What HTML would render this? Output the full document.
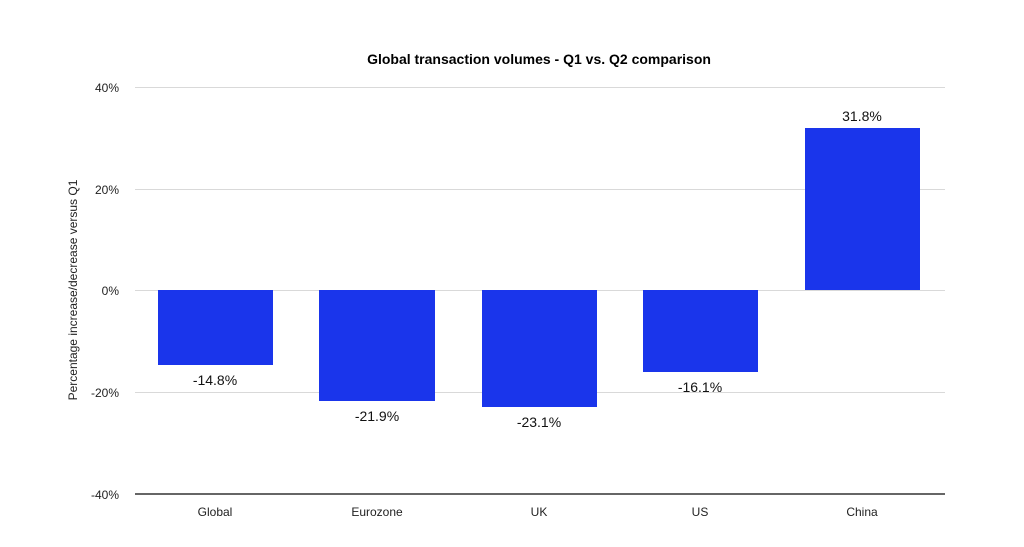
<!DOCTYPE html>
<html><head><meta charset="utf-8"><style>
html,body{margin:0;padding:0;background:#fff;}
svg{display:block;font-family:"Liberation Sans",sans-serif;}
</style></head><body>
<svg width="1024" height="547" xmlns="http://www.w3.org/2000/svg">
<rect width="1024" height="547" fill="#fff"/>
<text x="539" y="64" text-anchor="middle" font-size="14" font-weight="bold" fill="#000">Global transaction volumes - Q1 vs. Q2 comparison</text>
<g stroke="#d9d9d9" stroke-width="1">
<line x1="135" x2="945" y1="87.5" y2="87.5"/>
<line x1="135" x2="945" y1="189.5" y2="189.5"/>
<line x1="135" x2="945" y1="290.5" y2="290.5"/>
<line x1="135" x2="945" y1="392.5" y2="392.5"/>
</g>
<g font-size="12" fill="#222" text-anchor="end">
<text x="119" y="92">40%</text>
<text x="119" y="194">20%</text>
<text x="119" y="295">0%</text>
<text x="119" y="397">-20%</text>
<text x="119" y="499">-40%</text>
</g>
<text transform="translate(77,290) rotate(-90)" text-anchor="middle" font-size="12" fill="#222">Percentage increase/decrease versus Q1</text>
<g fill="#1a35eb">
<rect x="158" y="290" width="115" height="75"/>
<rect x="319" y="290" width="116" height="111"/>
<rect x="482" y="290" width="115" height="117"/>
<rect x="643" y="290" width="115" height="82"/>
<rect x="805" y="128" width="115" height="162"/>
</g>
<line x1="135" x2="945" y1="494" y2="494" stroke="#333" stroke-width="1.5"/>
<g font-size="14" fill="#111" text-anchor="middle">
<text x="215" y="385">-14.8%</text>
<text x="377" y="421">-21.9%</text>
<text x="539" y="427">-23.1%</text>
<text x="700" y="392">-16.1%</text>
<text x="862" y="121">31.8%</text>
</g>
<g font-size="12" fill="#222" text-anchor="middle">
<text x="215" y="516">Global</text>
<text x="377" y="516">Eurozone</text>
<text x="539" y="516">UK</text>
<text x="700" y="516">US</text>
<text x="862" y="516">China</text>
</g>
</svg>
</body></html>
